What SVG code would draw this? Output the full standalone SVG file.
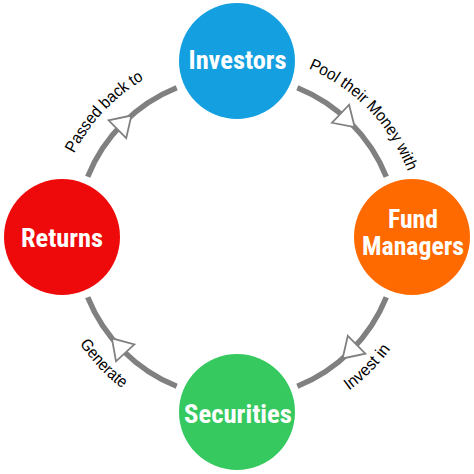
<svg xmlns="http://www.w3.org/2000/svg" width="474" height="474" viewBox="0 0 474 474">
<style>
.arc{fill:none;stroke:#808080;stroke-width:5.5}
.head{fill:#fff;stroke:#808080;stroke-width:1.8;stroke-linejoin:miter}
.node{font-family:"Liberation Sans Narrow","Roboto Condensed","Liberation Sans",Arial,sans-serif;font-weight:bold;font-size:26px;fill:#fff;text-anchor:middle}
.lbl{font-family:"Liberation Sans",Arial,sans-serif;font-size:16.5px;fill:#000;text-anchor:middle}
</style>
<defs>
<path id="pTR" d="M192.7,59.4 A183,183 0 0 1 412.9,287.4"/>
<path id="pTL" d="M61.7,289.6 A183,183 0 0 1 279.1,58.9"/>
<path id="pBR" d="M187.8,420.5 A190,190 0 0 0 420.5,187.8"/>
<path id="pBL" d="M54.8,183.0 A190,190 0 0 0 281.3,421.8"/>
</defs>
<rect width="474" height="474" fill="#fff"/>
<g id="connectors">
<path class="arc" d="M297.3,87.7 A161,161 0 0 1 386.3,176.7"/>
<path class="arc" d="M386.3,297.3 A161,161 0 0 1 297.3,386.3"/>
<path class="arc" d="M176.7,386.3 A161,161 0 0 1 87.7,297.3"/>
<path class="arc" d="M87.7,176.7 A161,161 0 0 1 176.7,87.7"/>
<polygon class="head" points="331.9,122.8 349.1,104.7 354.7,127.2"/>
<polygon class="head" points="347.8,335.8 365.4,353.6 342.6,358.5"/>
<polygon class="head" points="134.4,344.4 116.0,361.3 111.9,338.3"/>
<polygon class="head" points="126.2,138.2 108.6,120.4 131.4,115.5"/>
<text class="lbl"><textPath href="#pTR" startOffset="50%" textLength="147" lengthAdjust="spacingAndGlyphs">Pool their Money with</textPath></text>
<text class="lbl"><textPath href="#pBR" startOffset="50%" textLength="59" lengthAdjust="spacingAndGlyphs">Invest in</textPath></text>
<text class="lbl"><textPath href="#pBL" startOffset="50%" textLength="62" lengthAdjust="spacingAndGlyphs">Generate</textPath></text>
<text class="lbl"><textPath href="#pTL" startOffset="50%" textLength="103" lengthAdjust="spacingAndGlyphs">Passed back to</textPath></text>
</g>
<g id="investors">
<circle cx="237" cy="61" r="58" fill="#14a0e0"/>
<text class="node" x="237.5" y="69" textLength="98" lengthAdjust="spacingAndGlyphs">Investors</text>
</g>
<g id="fund-managers">
<circle cx="412" cy="237" r="58" fill="#ff6a00"/>
<text class="node" x="413" y="227.5" textLength="50" lengthAdjust="spacingAndGlyphs">Fund</text>
<text class="node" x="413" y="255" textLength="102" lengthAdjust="spacingAndGlyphs">Managers</text>
</g>
<g id="returns">
<circle cx="62" cy="237" r="58" fill="#ee0a0a"/>
<text class="node" x="62" y="247" textLength="82" lengthAdjust="spacingAndGlyphs">Returns</text>
</g>
<g id="securities">
<circle cx="237" cy="412" r="58" fill="#36c95f"/>
<text class="node" x="238" y="423" textLength="108" lengthAdjust="spacingAndGlyphs">Securities</text>
</g>
</svg>
